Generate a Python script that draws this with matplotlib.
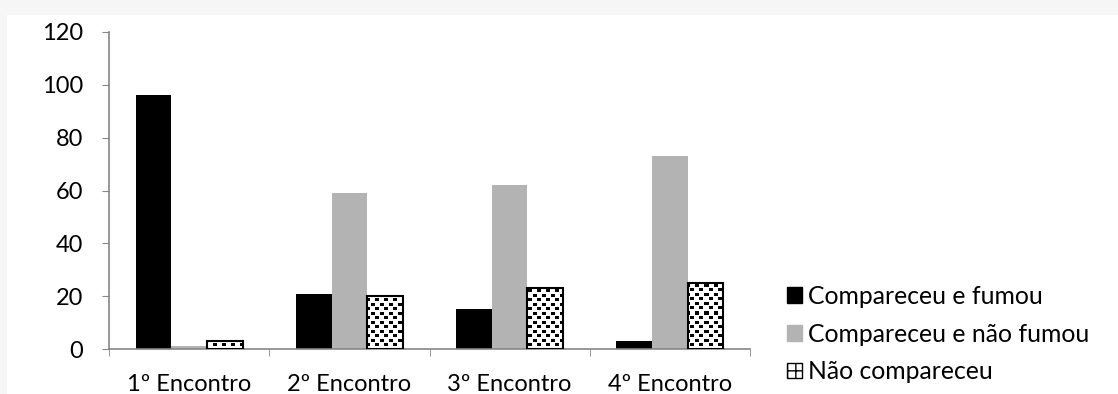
import matplotlib.pyplot as plt
import numpy as np
from matplotlib.patches import Patch, Rectangle

categorias = ['1º Encontro', '2º Encontro', '3º Encontro', '4º Encontro']
fumou = [96, 21, 15, 3]
nao_fumou = [1, 59, 62, 73]
nao_compareceu = [3, 20, 23, 25]
series_nomes = ['Compareceu e fumou', 'Compareceu e não fumou', 'Não compareceu']

cinza_eixo = '#868686'
fonte = 'Lato'

fig = plt.figure(figsize=(11.18, 3.94), dpi=100, facecolor='#f6f6f6')
# white chart area
fig.patches.append(Rectangle((7/1118, 0), 1, 1 - 15/394, transform=fig.transFigure,
                             facecolor='white', edgecolor='none', zorder=-5))
ax = fig.add_axes([109/1118, 45/394, 641/1118, 317/394])
ax.set_facecolor('none')

x = np.arange(len(categorias))
w = 1 / 4.5

ax.bar(x - w, fumou, w, color='black', zorder=2)
ax.bar(x, nao_fumou, w, color='#b3b3b3', zorder=2)
barras = ax.bar(x + w, nao_compareceu, w, color='white', edgecolor='black',
                linewidth=1.5, zorder=3)

# confetti texture for the "Não compareceu" bars (one texel per screen pixel)
tile = np.ones((9, 9))
tile[1:4, 1:5] = 0
tile[5:8, 5:9] = 0
textura = np.tile(tile, (36, 72))[:317, :641]
for b in barras:
    im = ax.imshow(textura, cmap='gray', vmin=0, vmax=1, interpolation='nearest',
                   extent=(-0.5, 3.5, 0, 120), aspect='auto', zorder=2.5)
    im.set_clip_path(b)
    b.set_facecolor('none')

ax.set_xlim(-0.5, 3.5)
ax.set_ylim(0, 120)
ax.set_yticks(range(0, 121, 20))
ax.set_xticks(x)
ax.set_xticklabels(categorias, fontsize=17, family=fonte)
ax.set_xticks(np.arange(-0.5, 4, 1), minor=True)
ax.tick_params(axis='x', which='major', length=0, pad=18)
ax.tick_params(axis='x', which='minor', length=5, color=cinza_eixo, direction='out')
ax.tick_params(axis='y', length=5, color=cinza_eixo, pad=13.5, labelsize=17)
for t in ax.get_yticklabels():
    t.set_family(fonte)
for s in ['top', 'right']:
    ax.spines[s].set_visible(False)
for s in ['left', 'bottom']:
    ax.spines[s].set_color(cinza_eixo)
    ax.spines[s].set_linewidth(1.2)

handles = [Patch(facecolor='black', edgecolor='black'),
           Patch(facecolor='#b3b3b3', edgecolor='#b3b3b3'),
           Patch(facecolor='white', edgecolor='black', hatch='++')]
fig.legend(handles, series_nomes, loc='center left', bbox_to_anchor=(787/1118, 1 - 334/394),
           frameon=False, prop={'family': fonte, 'size': 17.8},
           handlelength=0.6, handleheight=0.6, handletextpad=0.25, labelspacing=0.6,
           borderaxespad=0, borderpad=0)

fig.savefig('out.png', dpi=100, facecolor=fig.get_facecolor())
